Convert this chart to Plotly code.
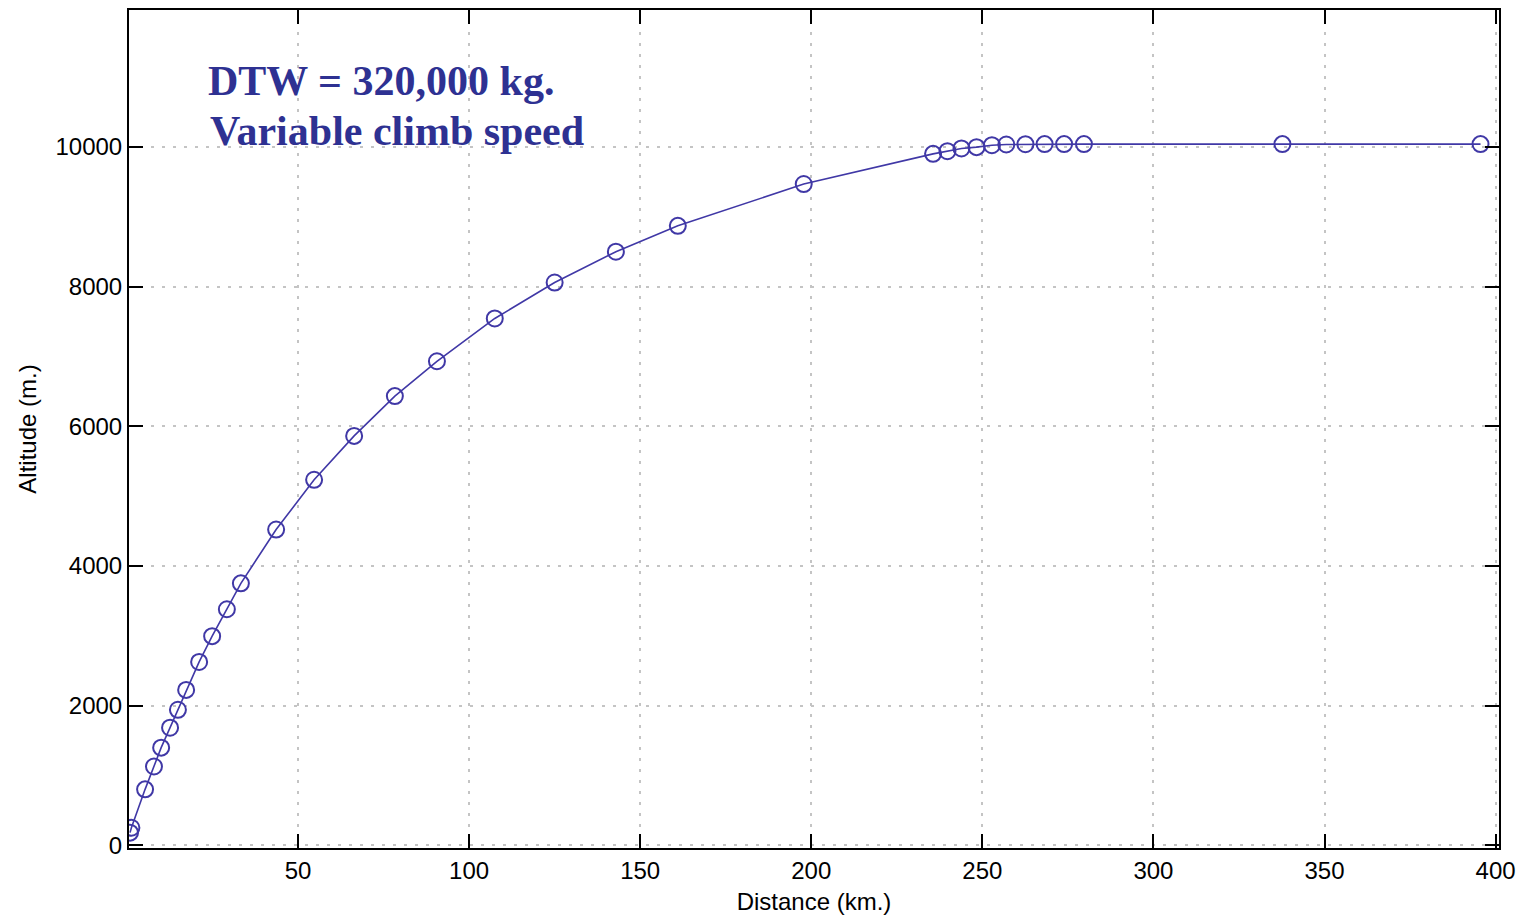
import plotly.graph_objects as go

# Data
distance_km = [0.9, 1.3, 5.3, 7.9, 10.0, 12.6, 14.9, 17.3, 21.1, 24.9, 29.2, 33.3,
               43.6, 54.7, 66.4, 78.3, 90.6, 107.5, 125.0, 142.9, 161.0, 197.8,
               235.6, 239.8, 243.9, 248.3, 252.8, 257.0, 262.6, 268.2, 273.9, 279.7,
               337.7, 395.6]
altitude_m = [180, 250, 800, 1127, 1397, 1683, 1939, 2224, 2624, 2994, 3379, 3750,
              4520, 5233, 5861, 6431, 6930, 7543, 8057, 8499, 8869, 9468,
              9900, 9938, 9977, 9996, 10024, 10034, 10038, 10040, 10040, 10040,
              10040, 10040]

x_ticks = [50, 100, 150, 200, 250, 300, 350, 400]
y_ticks = [0, 2000, 4000, 6000, 8000, 10000]

title_lines = ["DTW = 320,000 kg.", "Variable climb speed"]

color = "#4038a6"
text_color = "#2e3192"
font_sans = "Liberation Sans, Arial"

fig = go.Figure()
fig.add_trace(go.Scatter(
    x=distance_km, y=altitude_m, mode="lines+markers",
    line=dict(color=color, width=1.6),
    marker=dict(symbol="circle-open", size=16, color=color, line=dict(width=2, color=color)),
    showlegend=False,
))

axis_common = dict(
    showline=True, linecolor="black", linewidth=2, mirror="allticks",
    ticks="inside", ticklen=14, tickwidth=1.5, tickcolor="black",
    showgrid=True, gridcolor="#c4c4c4", gridwidth=1.5, griddash="3px,8px",
    zeroline=False,
    tickfont=dict(family=font_sans, size=24, color="black"),
)

fig.update_xaxes(range=[0.6, 401], tickvals=x_ticks, ticktext=[str(v) for v in x_ticks],
                 title=dict(text="Distance (km.)", standoff=10,
                            font=dict(family=font_sans, size=24, color="black")),
                 **axis_common)
fig.update_yaxes(range=[-40, 11960], tickvals=y_ticks, ticktext=[str(v) for v in y_ticks],
                 title=dict(text="Altitude (m.)", standoff=12,
                            font=dict(family=font_sans, size=24, color="black")),
                 **axis_common)

fig.add_annotation(xref="paper", yref="paper", x=0.056, y=0.915, xanchor="left", yanchor="middle",
                   text="<b>%s</b>" % title_lines[0], showarrow=False,
                   font=dict(family="Liberation Serif, Times New Roman", size=42, color=text_color))
fig.add_annotation(xref="paper", yref="paper", x=0.058, y=0.856, xanchor="left", yanchor="middle",
                   text="<b>%s</b>" % title_lines[1], showarrow=False,
                   font=dict(family="Liberation Serif, Times New Roman", size=42, color=text_color))

fig.update_layout(
    width=1526, height=919,
    margin=dict(l=129, r=27, t=8, b=69),
    plot_bgcolor="white", paper_bgcolor="white",
)

fig.write_html("out.html")
